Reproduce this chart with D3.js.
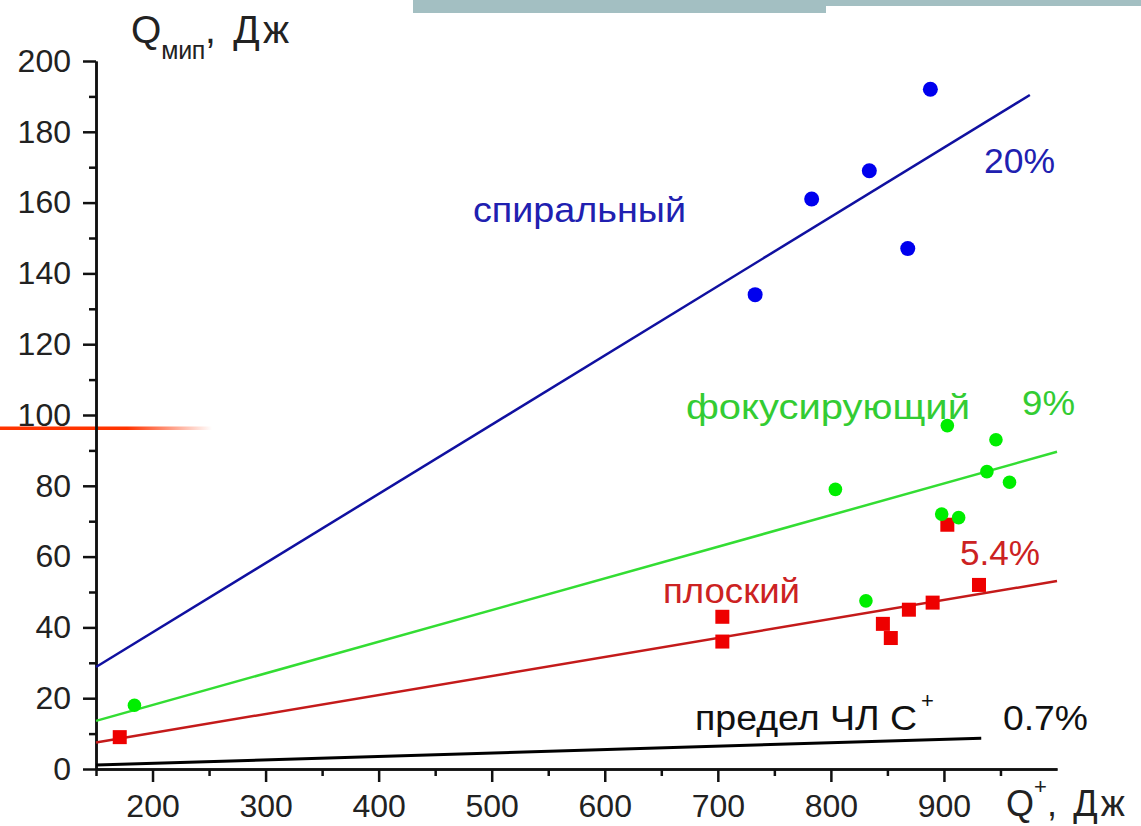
<!DOCTYPE html>
<html>
<head>
<meta charset="utf-8">
<script src="https://cdn.jsdelivr.net/npm/d3@7"></script>
<style>
  body { margin: 0; background: #fff; }
  text { font-family: "Liberation Sans", Arial, sans-serif; }
</style>
</head>
<body>
<script>
// данные (Q+ , Qмип)
const spiralX = [733, 783, 834, 868, 888];
const spiralY = [134, 161, 169, 147, 192];

const focusX = [184, 804, 831, 898, 903, 913, 938, 946, 958];
const focusY = [18, 79, 47.5, 72, 97, 71, 84, 93, 81];

const flatX = [171, 704, 704, 846, 853, 869, 890, 903, 931];
const flatY = [9, 43, 36, 41, 37, 45, 47, 69, 52];

// линии тренда: [x0, y0, x1, y1]
const spiralFit = [150, 28.8, 976, 190.4];
const focusFit = [150, 13.6, 1000, 89.6];
const flatFit = [150, 7.5, 1000, 53.1];
const limitFit = [150, 1.1, 933, 8.7];

const xMajor = [200, 300, 400, 500, 600, 700, 800, 900];
const xMinor = [150, 250, 350, 450, 550, 650, 750, 850, 950];
const yMajor = [0, 20, 40, 60, 80, 100, 120, 140, 160, 180, 200];
const yMinor = [10, 30, 50, 70, 90, 110, 130, 150, 170, 190];

const W = 1141, H = 826;

const svg = d3.select('body')
    .append('svg')
    .attr('width', W)
    .attr('height', H);

const x = d3.scaleLinear().domain([150, 1000]).range([96, 1057]);
const y = d3.scaleLinear().domain([0, 200]).range([769, 61]);

// декор слайда сверху и оранжевая полоса слева
svg.append('rect').attr('x', 413).attr('y', 0).attr('width', 413).attr('height', 13).attr('fill', '#a3bfc2');
svg.append('rect').attr('x', 826).attr('y', 0).attr('width', 315).attr('height', 6).attr('fill', '#a3bfc2');

const grad = svg.append('defs').append('linearGradient').attr('id', 'fade');
grad.append('stop').attr('offset', '0%').attr('stop-color', '#ff3300');
grad.append('stop').attr('offset', '60%').attr('stop-color', '#ff3300');
grad.append('stop').attr('offset', '100%').attr('stop-color', '#ff3300').attr('stop-opacity', 0);
svg.append('rect').attr('x', 0).attr('y', 426.5).attr('width', 212).attr('height', 3.5).attr('fill', 'url(#fade)');

// оси
function styleAxis(g) {
    g.select('.domain').attr('stroke', '#111').attr('stroke-width', 2.5);
    g.selectAll('.tick line').attr('stroke', '#111').attr('stroke-width', 2.5);
    g.selectAll('.tick text').attr('fill', '#222').style('font-size', '32px')
        .style('font-family', '"Liberation Sans", Arial, sans-serif');
}

svg.append('g')
    .attr('transform', `translate(0,${y(0)})`)
    .call(d3.axisBottom(x).tickValues(xMinor).tickSize(7).tickFormat('').tickSizeOuter(0))
    .call(styleAxis);
svg.append('g')
    .attr('transform', `translate(0,${y(0)})`)
    .call(d3.axisBottom(x).tickValues(xMajor).tickSize(13).tickPadding(12).tickSizeOuter(0))
    .call(styleAxis);

svg.append('g')
    .attr('transform', `translate(${x(150)},0)`)
    .call(d3.axisLeft(y).tickValues(yMinor).tickSize(7).tickFormat('').tickSizeOuter(0))
    .call(styleAxis);
svg.append('g')
    .attr('transform', `translate(${x(150)},0)`)
    .call(d3.axisLeft(y).tickValues(yMajor).tickSize(13).tickPadding(12).tickSizeOuter(0))
    .call(styleAxis);

// подписи осей
const yTitle = svg.append('text').attr('x', 131).attr('y', 43).attr('fill', '#222').style('font-size', '39px');
yTitle.append('tspan').text('Q');
yTitle.append('tspan').attr('dy', 16).attr('textLength', 44).attr('lengthAdjust', 'spacing')
    .style('font-size', '25px').text('мип');
yTitle.append('tspan').attr('dy', -16).attr('textLength', 84).attr('lengthAdjust', 'spacing').text(', Дж');

const xTitle = svg.append('text').attr('x', 1006).attr('y', 816).attr('fill', '#222').style('font-size', '36px');
xTitle.append('tspan').text('Q');
xTitle.append('tspan').attr('dy', -22).style('font-size', '22px').text('+');
xTitle.append('tspan').attr('dy', 22).attr('textLength', 78).attr('lengthAdjust', 'spacing').text(', Дж');

// линии тренда
const fits = [
    { f: limitFit, c: '#000', w: 3 },
    { f: flatFit, c: '#c41a1a', w: 2.5 },
    { f: focusFit, c: '#33dd33', w: 2.5 },
    { f: spiralFit, c: '#1010a0', w: 2.5 }
];
svg.selectAll('line.fit')
    .data(fits)
    .join('line')
    .attr('class', 'fit')
    .attr('x1', d => x(d.f[0])).attr('y1', d => y(d.f[1]))
    .attr('x2', d => x(d.f[2])).attr('y2', d => y(d.f[3]))
    .attr('stroke', d => d.c)
    .attr('stroke-width', d => d.w);

// точки
svg.selectAll('rect.flat')
    .data(flatX.map((v, i) => [v, flatY[i]]))
    .join('rect')
    .attr('class', 'flat')
    .attr('x', d => x(d[0]) - 7).attr('y', d => y(d[1]) - 7)
    .attr('width', 14).attr('height', 14)
    .attr('fill', '#ee0000');

svg.selectAll('circle.focus')
    .data(focusX.map((v, i) => [v, focusY[i]]))
    .join('circle')
    .attr('class', 'focus')
    .attr('cx', d => x(d[0])).attr('cy', d => y(d[1]))
    .attr('r', 6.8)
    .attr('fill', '#00ee00');

svg.selectAll('circle.spiral')
    .data(spiralX.map((v, i) => [v, spiralY[i]]))
    .join('circle')
    .attr('class', 'spiral')
    .attr('cx', d => x(d[0])).attr('cy', d => y(d[1]))
    .attr('r', 7.5)
    .attr('fill', '#0000ee');

// надписи (len — ширина как на картинке)
const notes = [
    { t: 'спиральный', x: 473, y: 222, c: '#2020b0', len: 213 },
    { t: '20%', x: 984, y: 173, c: '#2020b0', len: 71 },
    { t: 'фокусирующий', x: 686, y: 419, c: '#33cc33', len: 284 },
    { t: '9%', x: 1022, y: 415, c: '#33cc33', len: 53 },
    { t: 'плоский', x: 663, y: 603, c: '#cc2222', len: 137 },
    { t: '5.4%', x: 960, y: 565, c: '#cc2222', len: 80 },
    { t: 'предел ЧЛ С', x: 695, y: 730, c: '#111', len: 222 },
    { t: '0.7%', x: 1003, y: 730, c: '#111', len: 85 }
];
svg.selectAll('text.note')
    .data(notes)
    .join('text')
    .attr('class', 'note')
    .attr('x', d => d.x).attr('y', d => d.y)
    .attr('fill', d => d.c)
    .attr('textLength', d => d.len)
    .attr('lengthAdjust', 'spacingAndGlyphs')
    .style('font-size', '35px')
    .text(d => d.t);

svg.append('text').attr('x', 921).attr('y', 708).attr('fill', '#111').style('font-size', '22px').text('+');
</script>
</body>
</html>
